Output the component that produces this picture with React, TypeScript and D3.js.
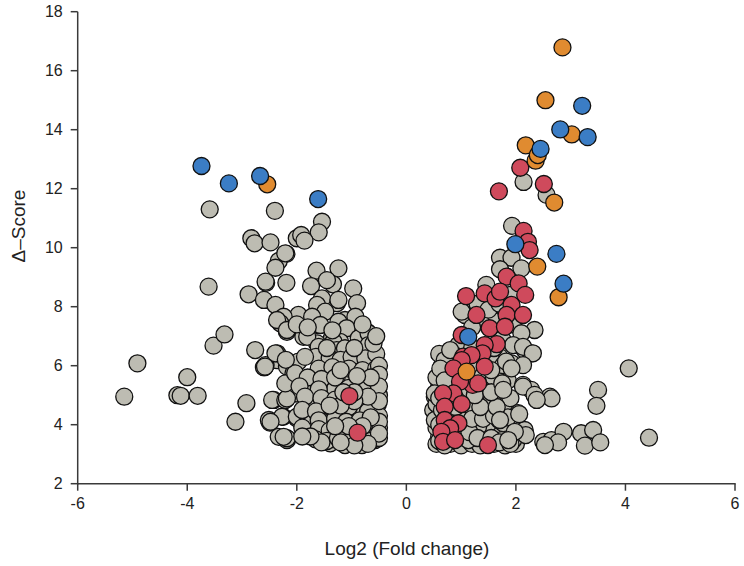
import React from "react";
import * as d3 from "d3";

const xTicks = [-6, -4, -2, 0, 2, 4, 6];
const yTicks = [2, 4, 6, 8, 10, 12, 14, 16, 18];

const grayPoints: [number, number][] = [
  // left outliers
  [-5.15, 4.95], [-4.91, 6.08], [-4.0, 5.61], [-4.18, 5.0], [-4.12, 4.98], [-3.81, 4.98],
  [-3.52, 6.68], [-3.32, 7.06], [-3.61, 8.68], [-3.12, 4.1], [-2.92, 4.73], [-2.76, 6.53],
  [-2.88, 8.42], [-2.6, 8.23], [-2.59, 5.95], [-2.37, 6.33], [-2.49, 4.07], [-2.42, 4.84],
  [-2.25, 4.27], [-2.33, 3.59], [-2.18, 3.48], [-2.0, 4.22], [-3.59, 11.3], [-2.4, 11.25],
  // left upper
  [-1.54, 10.88], [-1.6, 10.52], [-2.83, 10.32], [-2.77, 10.15], [-2.48, 10.18], [-2.0, 10.32],
  [-1.92, 10.43], [-1.86, 10.24], [-2.19, 9.79], [-2.33, 9.55], [-2.39, 9.32], [-2.56, 8.81],
  [-2.19, 8.81], [-1.64, 9.22], [-1.24, 9.3], [-1.74, 8.7], [-1.34, 8.76], [-0.97, 8.62],
  [-2.21, 9.81], [-2.57, 8.85], [-1.45, 8.9], [-1.27, 8.12], [-0.9, 8.12], [-1.54, 8.28],
  [-1.63, 8.06], [-2.39, 8.06], [-1.24, 8.23],
  // left middle
  [-1.97, 7.72], [-2.24, 7.66], [-2.3, 7.44], [-1.48, 7.83], [-1.12, 7.55], [-1.24, 7.49],
  [-0.93, 7.66], [-1.6, 7.38], [-2.18, 7.15], [-1.72, 7.66], [-1.09, 7.27], [-0.72, 7.15],
  [-1.85, 7.04], [-1.36, 6.93], [-0.87, 6.93], [-1.21, 6.81], [-2.36, 7.55], [-2.18, 7.21],
  [-1.88, 6.98], [-1.57, 7.38], [-1.63, 6.76], [-1.33, 6.81], [-0.69, 7.1], [-0.81, 6.42],
  [-1.12, 6.59], [-0.6, 6.02], [-2.36, 6.19], [-2.6, 5.95], [-2.36, 6.42], [-1.81, 6.98],
  [-2.57, 6.02], [-2.39, 6.42], [-2.06, 5.8], [-2.18, 5.97], [-1.97, 6.14], [-1.75, 5.4],
  [-1.51, 5.8], [-1.48, 6.14], [-1.6, 6.64], [-1.27, 6.53], [-1.12, 6.59], [-0.84, 6.42],
  [-0.69, 6.7], [-0.93, 6.08], [-1.15, 5.57], [-1.3, 5.23], [-0.66, 5.74], [-0.63, 5.18],
  [-2.03, 5.06], [-2.45, 4.84], [-2.21, 4.84], [-1.72, 4.73], [-1.45, 4.5], [-0.81, 4.61],
  [-2.51, 4.16], [-2.27, 4.27], [-2.0, 4.27], [-1.72, 4.1], [-1.48, 4.1], [-1.24, 4.27],
  [-1.09, 4.33], [-0.57, 4.39], [-2.18, 3.54], [-1.75, 3.76], [-1.54, 3.54], [-1.24, 3.59],
  [-0.99, 3.59], [-0.69, 3.54], [-0.51, 3.71], [-1.39, 3.37], [-1.12, 3.31], [-0.81, 3.31],
  [-0.57, 3.48], [-2.06, 5.74], [-2.0, 5.06], [-2.18, 4.89], [-1.72, 5.4], [-1.12, 5.52],
  [-1.45, 4.05], [-1.33, 3.51], [-1.06, 3.59], [-0.72, 3.59], [-0.6, 3.93], [-0.93, 4.39],
  [-0.57, 4.61], [-0.97, 5.52], [-2.58, 5.97], [-2.21, 5.4], [-2.03, 5.74], [-2.48, 4.1],
  [-2.24, 3.59], [-1.72, 4.61], [-1.6, 3.82], [-1.54, 5.8],
  // left dense fill
  [-1.65, 6.3], [-1.4, 6.25], [-1.2, 6.2], [-1.0, 6.3], [-0.75, 6.25], [-0.55, 6.4],
  [-1.6, 5.9], [-1.35, 5.95], [-1.05, 5.9], [-0.8, 5.85], [-0.55, 5.9],
  [-1.8, 5.6], [-1.55, 5.55], [-1.3, 5.6], [-0.85, 5.5], [-0.55, 5.45],
  [-1.95, 5.3], [-1.6, 5.2], [-1.05, 5.25], [-0.8, 5.2], [-0.5, 5.0],
  [-1.85, 4.95], [-1.55, 4.9], [-1.3, 4.85], [-1.1, 4.9], [-0.75, 4.85], [-0.52, 4.7],
  [-1.9, 4.5], [-1.65, 4.45], [-1.25, 4.5], [-1.05, 4.6], [-0.7, 4.45], [-0.5, 4.3],
  [-1.6, 4.15], [-1.3, 4.2], [-1.1, 4.1], [-0.85, 4.15], [-0.6, 4.1], [-0.5, 3.9],
  [-1.9, 3.9], [-1.6, 3.85], [-1.4, 3.8], [-1.2, 3.85], [-0.95, 3.8], [-0.75, 3.8], [-0.55, 3.65],
  [-1.65, 3.5], [-1.45, 3.45], [-1.25, 3.55], [-1.0, 3.45], [-0.85, 3.5], [-0.65, 3.45], [-0.5, 3.55],
  [-0.5, 6.0], [-0.5, 5.7], [-0.5, 5.3], [-0.5, 4.8], [-0.5, 4.1], [-0.5, 3.7], [-0.7, 3.35],
  [-0.95, 3.3], [-1.2, 3.4], [-1.55, 3.4], [-0.65, 5.6], [-0.9, 5.65], [-1.2, 5.85], [-0.7, 4.95],
  [-0.95, 4.8], [-1.2, 4.65], [-1.4, 4.65], [-0.65, 4.25], [-0.8, 3.95], [-1.05, 3.95], [-1.3, 3.95],
  [-1.75, 3.6], [-1.9, 3.6], [-1.45, 6.6], [-0.95, 6.6], [-0.6, 6.75], [-0.55, 7.0], [-0.8, 7.4],
  [-1.35, 7.2], [-2.0, 7.4], [-1.8, 7.3], [-0.95, 5.1], [-1.15, 5.1], [-1.85, 6.3], [-2.2, 6.2],
  // right top
  [2.14, 12.23], [2.56, 11.79], [1.93, 10.74], [1.71, 9.66], [1.92, 9.66], [1.71, 9.27],
  [2.1, 9.3], [1.46, 8.74], [1.19, 7.89], [1.07, 7.72], [2.34, 7.21], [1.01, 7.83],
  [1.3, 8.1], [1.55, 8.0], [1.6, 7.5], [1.35, 7.5], [1.2, 7.3], [0.95, 6.7], [1.2, 6.6],
  [1.45, 6.5], [1.7, 6.3], [0.85, 6.4], [0.75, 6.1], [0.65, 6.0], [0.6, 6.4], [0.7, 6.19],
  [0.8, 6.53], [0.52, 4.95], [0.49, 4.5],
  // right lower fill
  [0.55, 3.35], [0.6, 3.6], [0.55, 3.9], [0.6, 4.3], [0.55, 4.7], [0.6, 5.3], [0.55, 5.6], [0.62, 5.9],
  [0.8, 3.35], [1.0, 3.3], [1.2, 3.35], [1.35, 3.3], [1.6, 3.35], [1.8, 3.3], [2.0, 3.35],
  [0.85, 3.7], [1.05, 3.65], [1.25, 3.7], [1.45, 3.75], [1.65, 3.7], [1.85, 3.65],
  [0.9, 4.1], [1.1, 4.0], [1.5, 4.05], [1.7, 4.15], [1.95, 4.0],
  [1.0, 4.4], [1.25, 4.35], [1.55, 4.45], [1.8, 4.5],
  [1.05, 4.9], [1.3, 4.8], [1.45, 5.0], [1.65, 4.85], [1.9, 4.9],
  [1.15, 5.2], [1.5, 5.3], [1.85, 5.5], [1.6, 5.6], [1.3, 5.7],
  [1.7, 5.95], [1.55, 6.2], [1.3, 6.3],
  [1.77, 6.02], [1.92, 6.08], [2.16, 6.53], [2.28, 6.42], [2.13, 5.35], [2.28, 5.18],
  [2.62, 4.95], [1.74, 5.18], [1.56, 4.84], [2.04, 4.39], [1.4, 4.39], [1.19, 4.61],
  [1.77, 4.05], [2.16, 3.82], [1.95, 3.48], [1.74, 3.48], [1.31, 3.93], [1.13, 3.48],
  [2.5, 3.42], [2.65, 3.48], [0.52, 5.06], [0.52, 4.16],
  [0.6, 3.45], [0.7, 3.3], [0.6, 4.0], [0.65, 4.5], [0.6, 4.9], [0.7, 5.5], [0.75, 3.6],
  [0.8, 4.3], [0.9, 4.6], [1.0, 3.9], [1.15, 3.75], [1.3, 3.55], [1.55, 3.55], [1.7, 3.4],
  [1.9, 3.35], [1.2, 4.2], [1.4, 4.2], [1.6, 4.3], [1.85, 4.25], [1.35, 4.6], [1.65, 4.6],
  [1.25, 5.0], [1.55, 5.1], [1.75, 5.4], [1.0, 5.65], [1.15, 6.0], [1.55, 5.85], [1.6, 6.6],
  [1.75, 6.9], [1.5, 7.9], [1.7, 8.1], [1.9, 8.4], [1.95, 7.4], [2.1, 7.1], [1.95, 6.7],
  // right outliers
  [4.06, 5.91], [3.5, 5.18], [3.47, 4.64], [4.43, 3.56], [2.87, 3.76], [2.77, 3.4],
  [2.53, 3.31], [3.19, 3.71], [3.41, 3.82], [3.26, 3.29], [3.54, 3.4], [2.65, 4.89],
  [2.13, 6.64], [2.31, 6.42], [2.13, 6.02], [1.82, 6.14], [1.92, 5.91], [2.13, 5.29],
  [1.77, 5.18], [2.34, 5.01], [2.38, 4.84], [2.06, 4.36], [2.18, 3.65], [1.98, 3.76],
  [1.86, 3.48], [1.71, 4.16],
];

const redPoints: [number, number][] = [
  [2.08, 12.71], [1.69, 11.91], [2.51, 12.16], [2.14, 10.57], [2.22, 10.2], [2.25, 9.92],
  [1.83, 9.02], [2.05, 8.79], [1.09, 8.36], [1.43, 8.45], [1.63, 8.28], [2.17, 8.4],
  [1.71, 8.51], [1.92, 8.06], [1.28, 7.72], [1.83, 7.72], [2.13, 7.72], [1.52, 7.27],
  [1.8, 7.32], [1.01, 7.04], [1.65, 6.73], [1.43, 6.7], [1.39, 6.42], [1.04, 6.31],
  [1.19, 6.36], [1.01, 6.19], [0.86, 5.91], [1.43, 5.97], [1.21, 5.35], [0.98, 5.46],
  [1.31, 5.4], [0.86, 5.06], [0.67, 5.06], [0.7, 4.61], [1.01, 4.7], [0.7, 4.16],
  [0.95, 4.05], [0.8, 3.88], [0.64, 3.76], [0.67, 3.42], [0.89, 3.48], [1.49, 3.31],
  [-1.04, 4.97], [-0.89, 3.73],
];

const orangePoints: [number, number][] = [
  [-2.54, 12.15], [2.85, 16.79], [2.54, 15.0], [3.02, 13.84], [2.18, 13.47], [2.36, 12.95],
  [2.4, 13.14], [2.7, 11.53], [2.39, 9.36], [2.78, 8.32], [1.1, 5.8],
];

const bluePoints: [number, number][] = [
  [-3.74, 12.77], [-3.24, 12.18], [-2.67, 12.43], [-1.61, 11.65], [3.21, 14.81], [2.81, 14.01],
  [3.31, 13.75], [2.45, 13.35], [1.99, 10.12], [2.74, 9.79], [2.87, 8.78], [1.13, 6.98],
];

const series = [
  { name: "gray", color: "#bdbcb2", points: grayPoints },
  { name: "red", color: "#cf4a5c", points: redPoints },
  { name: "orange", color: "#e08b30", points: orangePoints },
  { name: "blue", color: "#3b7dc5", points: bluePoints },
];

export default function App() {
  const W = 744, H = 566;
  const x = d3.scaleLinear().domain([-6, 6]).range([77.7, 735]);
  const y = d3.scaleLinear().domain([2, 18]).range([483.7, 11.7]);
  const font = "'Liberation Sans', Arial, sans-serif";
  const axisColor = "#3a3a3a";
  const r = 8.5;
  return (
    <svg width={W} height={H} style={{ position: "absolute", left: 0, top: 0, background: "#fff" }}>
      {series.map((s) => (
        <g key={s.name}>
          {s.points.map((p, i) => (
            <circle key={i} cx={x(p[0])} cy={y(p[1])} r={r} fill={s.color} stroke="#111" strokeWidth={1.3} />
          ))}
        </g>
      ))}
      <line x1={x(-6)} x2={x(-6)} y1={y(18)} y2={y(2) + 0.7} stroke={axisColor} strokeWidth={1.5} />
      <line x1={x(-6)} x2={x(6) + 0.7} y1={y(2)} y2={y(2)} stroke={axisColor} strokeWidth={1.5} />
      {yTicks.map((t) => (
        <g key={"y" + t}>
          <line x1={x(-6) - 7} x2={x(-6)} y1={y(t)} y2={y(t)} stroke={axisColor} strokeWidth={1.5} />
          <text x={x(-6) - 15} y={y(t)} dy="0.36em" textAnchor="end" fontFamily={font} fontSize={16} fill="#222">
            {t}
          </text>
        </g>
      ))}
      {xTicks.map((t) => (
        <g key={"x" + t}>
          <line x1={x(t)} x2={x(t)} y1={y(2)} y2={y(2) + 7} stroke={axisColor} strokeWidth={1.5} />
          <text x={x(t)} y={y(2) + 25} textAnchor="middle" fontFamily={font} fontSize={16} fill="#222">
            {t}
          </text>
        </g>
      ))}
      <text x={407} y={555} textAnchor="middle" fontFamily={font} fontSize={19} fill="#222">
        Log2 (Fold change)
      </text>
      <text transform="translate(25,226) rotate(-90)" textAnchor="middle" fontFamily={font} fontSize={19} fill="#222">
        Δ–Score
      </text>
    </svg>
  );
}
